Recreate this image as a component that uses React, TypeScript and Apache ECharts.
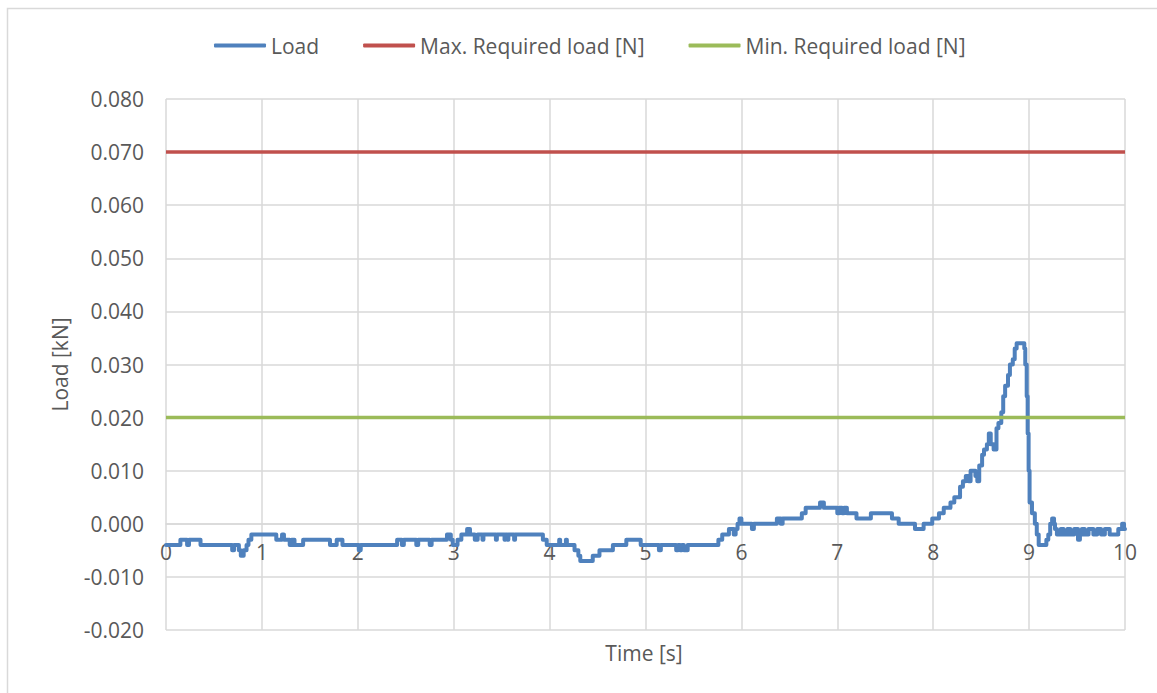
import React, { useEffect, useRef } from "react";
import * as echarts from "echarts";

// Time [s] at which each load value starts (held until next time)
const times: number[] = [
  0.0, 0.15, 0.22, 0.24, 0.36, 0.69, 0.71, 0.76, 0.78, 0.81, 0.84, 0.86, 0.89,
  1.15, 1.21, 1.23, 1.29, 1.31, 1.34, 1.43, 1.71, 1.78, 1.84, 2.01, 2.03,
  2.41, 2.46, 2.48, 2.61, 2.63, 2.75, 2.77, 2.93, 2.97, 2.99, 3.04, 3.08, 3.14, 3.17, 3.22,
  3.25, 3.3, 3.31, 3.44, 3.45, 3.53, 3.54, 3.56, 3.57, 3.63, 3.64, 3.93, 3.97,
  4.1, 4.11, 4.17, 4.18, 4.26, 4.3, 4.32, 4.45, 4.52, 4.66, 4.8, 4.95,
  5.14, 5.16, 5.32, 5.34, 5.36, 5.38, 5.4, 5.44, 5.76, 5.8, 5.87, 5.92, 5.94, 5.96, 5.98,
  6.0, 6.11, 6.13, 6.37, 6.41, 6.43, 6.63, 6.67, 6.82, 6.86,
  7.0, 7.02, 7.05, 7.07, 7.1, 7.2, 7.35, 7.57, 7.64, 7.81, 7.9, 7.99,
  8.06, 8.11, 8.18, 8.22, 8.25, 8.28, 8.31, 8.34, 8.37, 8.39, 8.44, 8.46, 8.48,
  8.51, 8.53, 8.56, 8.58, 8.6, 8.63, 8.66, 8.68, 8.71, 8.73, 8.75, 8.78, 8.8,
  8.83, 8.85, 8.87, 8.95, 8.96, 8.975, 8.985, 8.995, 9.005, 9.03, 9.06, 9.08, 9.1,
  9.18, 9.2, 9.22, 9.24, 9.26, 9.27, 9.29, 9.33, 9.36, 9.4, 9.43, 9.47, 9.51, 9.53,
  9.55, 9.58, 9.62, 9.67, 9.71, 9.75, 9.79, 9.84, 9.93, 9.97, 9.99, 10.0,
];

// Load [kN]
const loads: number[] = [
  -0.004, -0.003, -0.004, -0.003, -0.004, -0.005, -0.004, -0.005, -0.006, -0.005, -0.004, -0.003, -0.002,
  -0.003, -0.002, -0.003, -0.004, -0.003, -0.004, -0.003, -0.004, -0.003, -0.004, -0.005, -0.004,
  -0.003, -0.004, -0.003, -0.004, -0.003, -0.004, -0.003, -0.002, -0.003, -0.004, -0.003, -0.002, -0.001, -0.002, -0.003,
  -0.002, -0.003, -0.002, -0.003, -0.002, -0.003, -0.002, -0.003, -0.002, -0.003, -0.002, -0.003, -0.004,
  -0.003, -0.004, -0.003, -0.004, -0.005, -0.006, -0.007, -0.006, -0.005, -0.004, -0.003, -0.004,
  -0.005, -0.004, -0.005, -0.004, -0.005, -0.004, -0.005, -0.004, -0.003, -0.002, -0.001, -0.002, -0.001, 0.0, 0.001,
  0.0, -0.001, 0.0, 0.001, 0.0, 0.001, 0.002, 0.003, 0.004, 0.003,
  0.002, 0.003, 0.002, 0.003, 0.002, 0.001, 0.002, 0.001, 0.0, -0.001, 0.0, 0.001,
  0.002, 0.003, 0.004, 0.005, 0.005, 0.007, 0.008, 0.009, 0.008, 0.01, 0.009, 0.008, 0.011,
  0.013, 0.014, 0.015, 0.017, 0.015, 0.014, 0.018, 0.019, 0.021, 0.024, 0.026, 0.028, 0.03,
  0.031, 0.033, 0.034, 0.033, 0.03, 0.024, 0.017, 0.01, 0.004, 0.002, 0.0, -0.002, -0.004,
  -0.003, -0.002, 0.0, 0.001, 0.0, -0.001, -0.002, -0.001, -0.002, -0.001, -0.002, -0.001, -0.003, -0.002,
  -0.001, -0.002, -0.001, -0.002, -0.001, -0.002, -0.001, -0.002, -0.001, 0.0, -0.001, -0.001,
];

const maxRequired = 0.07;
const minRequired = 0.02;
const xRange: number[] = [0, 10];

const FONT = "'Open Sans', sans-serif";
const TEXT = "#595959";
const GRID = "#d9d9d9";

// plot area in pixels (layout only)
const PLOT_TOP = 99;
const PLOT_BOTTOM = 630;
const Y_MIN = -0.02;
const Y_MAX = 0.08;
// the horizontal axis crosses the value axis at 0, as in the spreadsheet chart
const X_AXIS_OFFSET = -((0 - Y_MIN) / (Y_MAX - Y_MIN)) * (PLOT_BOTTOM - PLOT_TOP);

export default function App() {
  const ref = useRef<HTMLDivElement>(null);
  useEffect(() => {
    if (!ref.current) return;
    const chart = echarts.init(ref.current, undefined, { renderer: "svg" });
    const loadData = times.map((t, i) => [t, loads[i]]);
    chart.setOption({
      animation: false,
      backgroundColor: "#ffffff",
      textStyle: { fontFamily: FONT, color: TEXT },
      legend: {
        left: 209,
        top: 30,
        itemWidth: 52,
        itemHeight: 4,
        itemGap: 44,
        icon: "roundRect",
        textStyle: { fontFamily: FONT, fontSize: 21, color: TEXT },
        data: ["Load", "Max. Required load [N]", "Min. Required load [N]"],
      },
      grid: { left: 166, right: 32, top: PLOT_TOP, bottom: 693 - PLOT_BOTTOM, containLabel: false },
      xAxis: {
        type: "value",
        min: 0,
        max: 10,
        interval: 1,
        position: "bottom",
        offset: X_AXIS_OFFSET,
        axisLine: { onZero: false, lineStyle: { color: GRID, width: 1.5 } },
        axisTick: { show: false },
        axisLabel: { color: TEXT, fontSize: 21, fontFamily: FONT, margin: 18 },
        splitLine: { show: true, lineStyle: { color: GRID, width: 1.5 } },
      },
      yAxis: {
        type: "value",
        min: Y_MIN,
        max: Y_MAX,
        interval: 0.01,
        name: "Load [kN]",
        nameLocation: "middle",
        nameGap: 96,
        nameTextStyle: { color: TEXT, fontSize: 21, fontFamily: FONT },
        axisLine: { show: false, onZero: false },
        axisTick: { show: false },
        axisLabel: {
          color: TEXT,
          fontSize: 21,
          fontFamily: FONT,
          margin: 22,
          formatter: (v: number) => v.toFixed(3),
        },
        splitLine: { show: true, lineStyle: { color: GRID, width: 1.5 } },
      },
      graphic: [
        {
          type: "rect",
          shape: { x: 7.5, y: 8.5, width: 1400, height: 1000 },
          style: { fill: "none", stroke: GRID, lineWidth: 1.5 },
          silent: true,
        },
        {
          type: "text",
          x: 644,
          y: 653,
          style: {
            text: "Time [s]",
            fontFamily: FONT,
            fontSize: 21,
            fill: TEXT,
            align: "center",
            verticalAlign: "middle",
          },
        },
      ],
      series: [
        {
          name: "Load",
          type: "line",
          step: "end",
          showSymbol: false,
          symbol: "none",
          data: loadData,
          lineStyle: { color: "#4f81bd", width: 4, join: "round", cap: "round" },
          itemStyle: { color: "#4f81bd" },
          z: 3,
        },
        {
          name: "Max. Required load [N]",
          type: "line",
          symbol: "none",
          data: xRange.map((t) => [t, maxRequired]),
          lineStyle: { color: "#c0504d", width: 3.5 },
          itemStyle: { color: "#c0504d" },
        },
        {
          name: "Min. Required load [N]",
          type: "line",
          symbol: "none",
          data: xRange.map((t) => [t, minRequired]),
          lineStyle: { color: "#9bbb59", width: 3.5 },
          itemStyle: { color: "#9bbb59" },
        },
      ],
    });
    return () => chart.dispose();
  }, []);
  return (
    <div
      ref={ref}
      style={{ position: "fixed", left: 0, top: 0, width: 1157, height: 693 }}
    />
  );
}
